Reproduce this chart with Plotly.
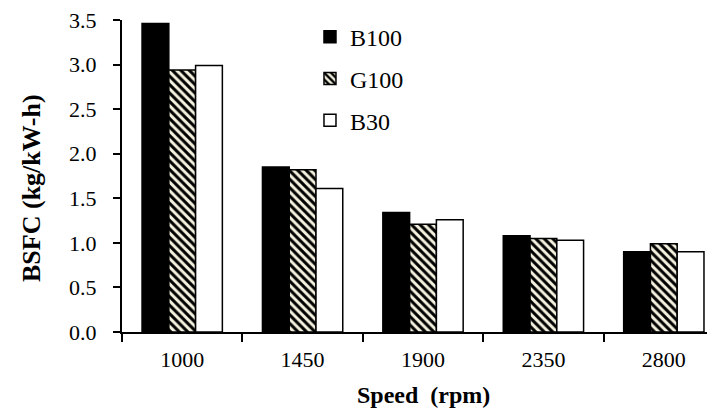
import plotly.graph_objects as go

speeds = ["1000", "1450", "1900", "2350", "2800"]
b100 = [3.46, 1.85, 1.34, 1.08, 0.90]
g100 = [2.94, 1.82, 1.21, 1.05, 0.99]
b30 = [2.99, 1.61, 1.26, 1.03, 0.90]
y_ticks = [0.0, 0.5, 1.0, 1.5, 2.0, 2.5, 3.0, 3.5]

FONT = "Liberation Serif"
TICK_SIZE = 22
LEGEND_SIZE = 24

fig = go.Figure()
fig.add_trace(go.Bar(
    x=speeds, y=b100, name="B100", legendgroup="a",
    marker=dict(color="black", line=dict(color="black", width=1.5)),
))
fig.add_trace(go.Bar(
    x=speeds, y=g100, name="G100", legendgroup="b",
    marker=dict(color="#f4f1df", line=dict(color="black", width=1.5),
                pattern=dict(shape="\\", fgcolor="black", bgcolor="#f4f1df",
                             size=6, solidity=0.5, fillmode="replace")),
))
fig.add_trace(go.Bar(
    x=speeds, y=b30, name="B30", legendgroup="c",
    marker=dict(color="white", line=dict(color="black", width=1.5)),
))

fig.update_layout(
    width=707, height=405,
    margin=dict(l=114, r=0, t=12, b=81, autoexpand=False),
    paper_bgcolor="white", plot_bgcolor="white",
    barmode="group", bargap=0.333, bargroupgap=0,
    font=dict(family=FONT, size=TICK_SIZE, color="black"),
    showlegend=True,
    legend=dict(x=0.317, y=1.017, xanchor="left", yanchor="top",
                bgcolor="rgba(0,0,0,0)", tracegroupgap=7.5,
                font=dict(family=FONT, size=LEGEND_SIZE, color="black")),
    annotations=[
        dict(text="<b>Speed  (rpm)</b>", xref="paper", yref="paper",
             x=0.5076, y=-0.2019, xanchor="center", yanchor="middle",
             showarrow=False, font=dict(family=FONT, size=24, color="black")),
        dict(text="<b>BSFC (kg/kW-h)</b>", xref="paper", yref="paper",
             x=-0.1535, y=0.4615, xanchor="center", yanchor="middle",
             textangle=-90, showarrow=False,
             font=dict(family=FONT, size=26, color="black")),
    ],
)
fig.update_xaxes(
    type="category", range=[-0.5, 4.425], tickson="boundaries",
    automargin=False, ticklabeloverflow="allow",
    showline=True, linecolor="black", linewidth=2,
    ticks="outside", ticklen=8, tickwidth=2, tickcolor="black",
    showgrid=False, zeroline=False, ticklabelstandoff=7,
    tickfont=dict(family=FONT, size=TICK_SIZE, color="black"),
)
fig.update_yaxes(
    range=[0, 3.5], tickvals=y_ticks, ticktext=[f"{v:.1f}" for v in y_ticks],
    automargin=False, ticklabeloverflow="allow",
    showline=True, linecolor="black", linewidth=2,
    ticks="outside", ticklen=7, tickwidth=2, tickcolor="black",
    showgrid=False, zeroline=False, ticklabelstandoff=12,
    tickfont=dict(family=FONT, size=TICK_SIZE, color="black"),
)

fig.write_html("out.html")
